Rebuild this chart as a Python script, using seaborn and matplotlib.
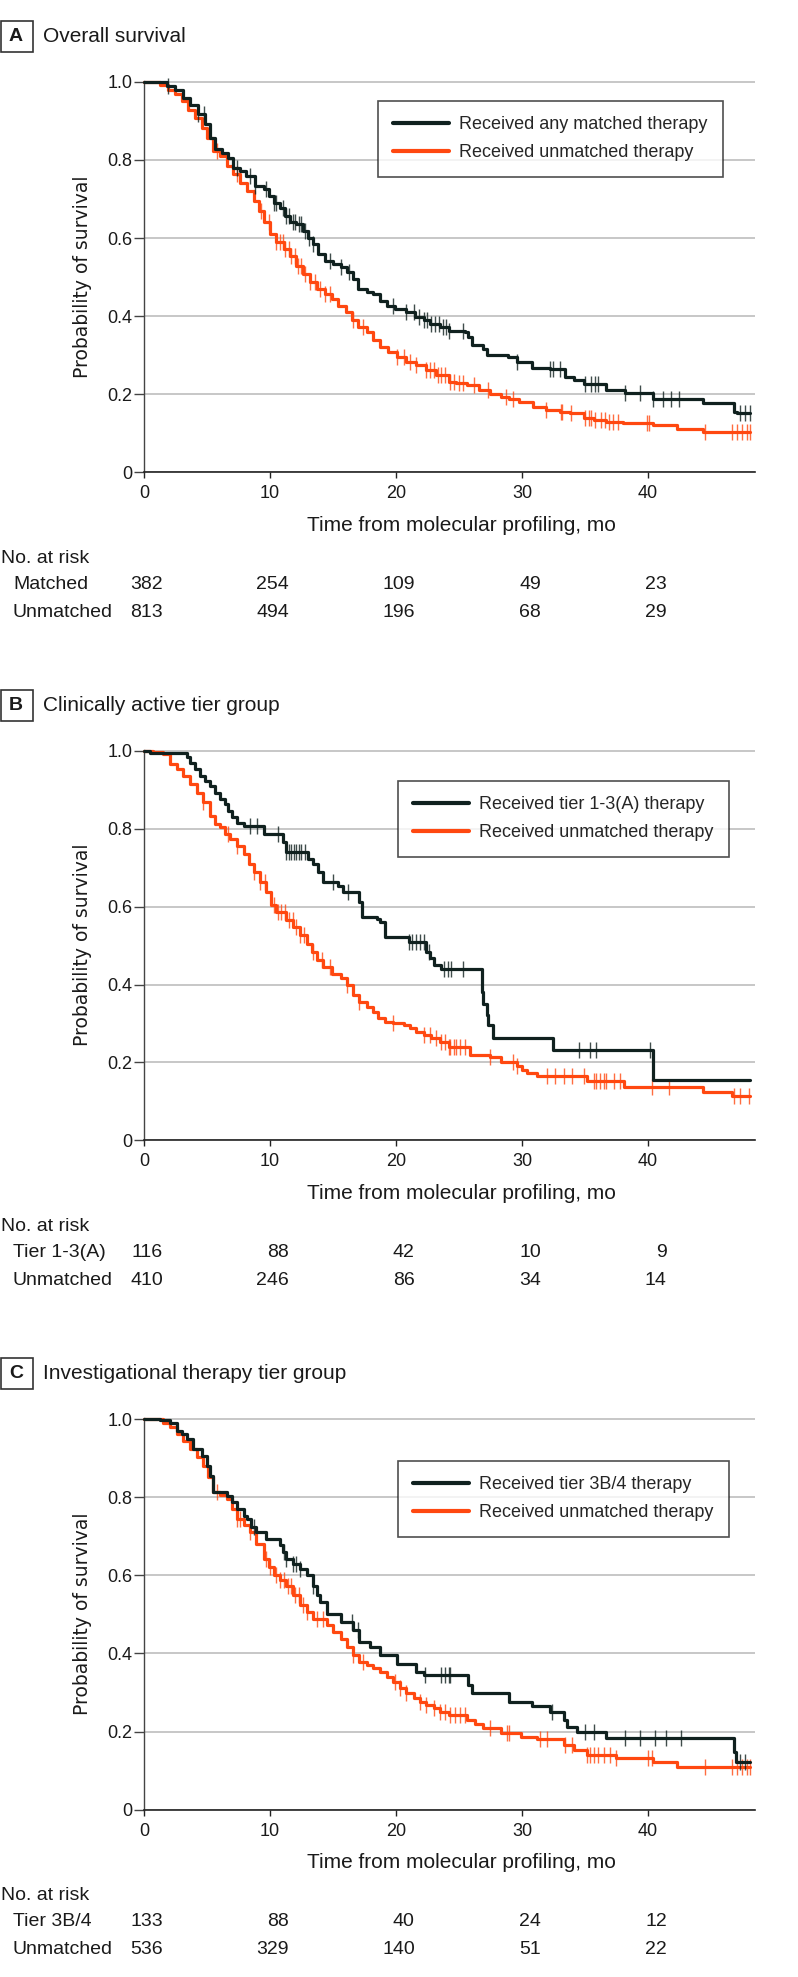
import numpy as np
import matplotlib
matplotlib.use("Agg")
import matplotlib.pyplot as plt
import matplotlib.patches as mpatches
from matplotlib.transforms import blended_transform_factory
import seaborn as sns

sns.set_style("white")
plt.rcParams["font.family"] = ["Liberation Sans", "DejaVu Sans"]

BLACK = "#10211f"
RED = "#ff4810"

# ---------------- data ----------------
xticks = [0, 10, 20, 30, 40]
yticks = [0, 0.2, 0.4, 0.6, 0.8, 1.0]
yticklabels = ["0", "0.2", "0.4", "0.6", "0.8", "1.0"]

# A: overall survival
a_matched_t = [0, 1.8, 2.5, 3.1, 3.65, 4.3, 4.85, 5.2, 5.6, 6.2, 6.7, 7.1, 7.6, 8.1, 8.8, 9.5, 9.9,
               10.3, 10.8, 11.2, 11.6, 12.1, 12.6, 13.0, 13.4, 13.8, 14.4, 15.0, 15.6, 16.1, 16.6,
               17.0, 17.7, 18.2, 18.7, 19.3, 19.9, 20.8, 21.5, 22.2, 22.7, 23.5, 24.2, 25.5, 25.7,
               26.0, 26.9, 27.2, 28.9, 29.6, 30.8, 32.2, 33.4, 34.1, 34.9, 36.7, 38.2, 40.4, 44.4,
               46.8, 47.1, 48.1]
a_matched_s = [1.0, 0.99, 0.98, 0.959, 0.942, 0.917, 0.891, 0.857, 0.827, 0.819, 0.806, 0.78, 0.772,
               0.759, 0.734, 0.725, 0.708, 0.691, 0.678, 0.657, 0.64, 0.636, 0.619, 0.60, 0.585,
               0.559, 0.542, 0.534, 0.525, 0.512, 0.495, 0.47, 0.461, 0.457, 0.44, 0.427, 0.419,
               0.41, 0.397, 0.389, 0.379, 0.372, 0.363, 0.359, 0.346, 0.325, 0.317, 0.30, 0.295,
               0.283, 0.267, 0.265, 0.244, 0.236, 0.225, 0.212, 0.203, 0.189, 0.178, 0.155, 0.151,
               0.151]
a_matched_cens = [1.9, 4.3, 4.8, 7.35, 8.4, 8.8, 9.7, 10.3, 10.5, 11.0, 11.3, 11.5, 11.8, 12.0, 12.3,
                  12.5, 12.8, 13.1, 13.4, 14.8, 15.6, 16.3, 19.8, 20.8, 21.4, 21.8, 22.2, 22.5, 22.8,
                  23.1, 23.4, 23.7, 24.0, 24.2, 25.3, 29.6, 32.2, 32.5, 33.0, 35.0, 35.5, 35.8, 36.0,
                  38.2, 39.4, 40.4, 41.2, 41.8, 42.5, 47.3, 47.7, 48.1]
a_unmatched_t = [0, 1.27, 1.93, 2.46, 3.0, 3.5, 4.05, 4.6, 5.0, 5.5, 6.0, 6.6, 7.1, 7.6, 8.15, 8.7,
                 9.1, 9.5, 10.0, 10.5, 11.1, 11.6, 12.1, 12.6, 13.2, 13.7, 14.4, 14.9, 15.4, 16.0,
                 16.5, 17.0, 17.7, 18.2, 18.7, 19.4, 20.05, 20.8, 21.6, 22.4, 23.2, 24.2, 24.8, 25.6,
                 26.6, 27.5, 28.3, 29.0, 29.8, 30.9, 31.9, 33.0, 33.8, 34.9, 35.7, 36.7, 38.0, 40.4,
                 42.3, 44.4, 48.1]
a_unmatched_s = [1.0, 0.993, 0.98, 0.968, 0.951, 0.929, 0.908, 0.883, 0.857, 0.823, 0.81, 0.785,
                 0.763, 0.742, 0.721, 0.695, 0.67, 0.64, 0.61, 0.589, 0.572, 0.555, 0.529, 0.508,
                 0.487, 0.47, 0.457, 0.444, 0.427, 0.41, 0.389, 0.372, 0.359, 0.338, 0.321, 0.308,
                 0.295, 0.283, 0.274, 0.261, 0.249, 0.232, 0.228, 0.223, 0.21, 0.20, 0.193, 0.189,
                 0.18, 0.168, 0.159, 0.155, 0.151, 0.14, 0.134, 0.13, 0.125, 0.121, 0.112, 0.104,
                 0.104]
a_unmatched_cens = [5.8, 7.35, 9.3, 9.9, 10.5, 10.8, 11.0, 11.2, 11.5, 11.7, 12.0, 12.2, 12.5, 12.8,
                    13.2, 13.6, 14.0, 14.4, 14.8, 16.6, 17.4, 20.1, 20.6, 21.1, 21.6, 22.4, 22.7,
                    23.0, 23.3, 23.6, 23.9, 24.3, 24.6, 25.0, 25.3, 26.2, 27.3, 28.7, 29.3, 31.9,
                    33.1, 33.2, 33.9, 35.0, 35.3, 35.5, 35.8, 36.3, 36.6, 36.9, 37.2, 37.6, 39.9,
                    40.1, 44.5, 46.7, 47.1, 47.5, 47.9, 48.1]
a_names = ["Matched", "Unmatched"]
a_risk_matched = [382, 254, 109, 49, 23]
a_risk_unmatched = [813, 494, 196, 68, 29]

# B: clinically active tier group
b_tier_t = [0, 0.48, 3.4, 3.65, 4.05, 4.45, 4.85, 5.2, 5.6, 6.0, 6.4, 6.7, 7.0, 7.35, 7.9, 9.5,
            11.06, 11.3, 13.0, 13.4, 13.8, 14.2, 15.4, 15.8, 17.1, 17.3, 18.5, 18.7, 19.1, 21.0,
            22.4, 22.7, 23.0, 23.6, 26.8, 26.9, 27.2, 27.3, 27.7, 32.5, 40.4, 48.1]
b_tier_s = [1.0, 0.994, 0.983, 0.97, 0.953, 0.936, 0.923, 0.91, 0.893, 0.876, 0.863, 0.846, 0.829,
            0.816, 0.806, 0.787, 0.765, 0.74, 0.723, 0.71, 0.689, 0.663, 0.654, 0.637, 0.612,
            0.573, 0.569, 0.56, 0.522, 0.509, 0.484, 0.467, 0.45, 0.441, 0.38, 0.35, 0.322,
            0.296, 0.262, 0.232, 0.155, 0.155]
b_tier_cens = [8.4, 9.0, 10.6, 11.3, 11.5, 11.7, 11.9, 12.1, 12.3, 12.5, 12.8, 15.0, 16.2, 21.0,
               21.3, 21.6, 21.9, 22.2, 22.6, 23.8, 24.1, 24.4, 25.3, 34.5, 35.4, 35.9, 40.2]
b_unmatched_t = [0, 0.74, 1.5, 2.06, 2.6, 3.1, 3.65, 4.2, 4.7, 5.2, 5.6, 6.0, 6.4, 6.8, 7.35, 7.9,
                 8.3, 8.7, 9.2, 9.7, 10.1, 10.5, 11.3, 11.85, 12.4, 12.9, 13.3, 13.7, 14.2, 14.9,
                 15.6, 16.1, 16.6, 17.1, 17.7, 18.2, 18.6, 19.1, 19.8, 20.6, 21.1, 21.6, 22.2, 22.8,
                 23.5, 24.2, 25.9, 27.5, 28.3, 29.6, 30.0, 30.4, 31.2, 35.2, 38.1, 44.4, 46.7, 48.1]
b_unmatched_s = [1.0, 0.996, 0.991, 0.966, 0.953, 0.936, 0.915, 0.893, 0.868, 0.834, 0.812, 0.804,
                 0.787, 0.774, 0.757, 0.735, 0.71, 0.689, 0.663, 0.637, 0.603, 0.586, 0.565, 0.548,
                 0.526, 0.505, 0.484, 0.462, 0.445, 0.428, 0.416, 0.398, 0.373, 0.356, 0.343, 0.33,
                 0.313, 0.303, 0.30, 0.296, 0.288, 0.279, 0.27, 0.262, 0.253, 0.24, 0.219, 0.215,
                 0.202, 0.19, 0.181, 0.172, 0.164, 0.151, 0.138, 0.125, 0.113, 0.113]
b_unmatched_cens = [4.7, 6.7, 7.35, 8.7, 9.2, 9.6, 10.3, 10.6, 10.9, 11.2, 11.5, 11.8, 12.1, 12.4,
                    12.7, 13.4, 14.1, 14.8, 16.1, 17.1, 19.8, 22.2, 22.7, 23.2, 23.6, 23.9, 24.2,
                    24.3, 24.6, 24.8, 25.1, 25.5, 27.5, 29.3, 29.6, 32.0, 32.6, 33.3, 34.0, 34.9,
                    35.7, 35.9, 36.2, 36.5, 36.7, 37.3, 37.8, 40.3, 41.7, 46.8, 47.3, 48.0]
b_names = ["Tier 1-3(A)", "Unmatched"]
b_risk_tier = [116, 88, 42, 10, 9]
b_risk_unmatched = [410, 246, 86, 34, 14]

# C: investigational therapy tier group
c_tier_t = [0, 1.27, 2.06, 2.6, 3.0, 3.4, 3.9, 4.6, 5.0, 5.2, 5.5, 6.6, 7.0, 7.35, 7.9, 8.15, 8.5,
            8.9, 9.7, 10.8, 11.06, 11.3, 11.85, 12.4, 12.9, 13.4, 13.7, 14.0, 14.5, 15.6, 16.6,
            17.1, 17.9, 18.7, 20.05, 21.6, 22.2, 25.7, 26.0, 29.0, 30.8, 32.2, 33.3, 33.6, 34.4,
            36.7, 46.8, 47.0, 48.1]
c_tier_s = [1.0, 0.998, 0.991, 0.97, 0.962, 0.949, 0.923, 0.906, 0.88, 0.855, 0.813, 0.804, 0.787,
            0.77, 0.753, 0.745, 0.723, 0.71, 0.694, 0.677, 0.66, 0.643, 0.63, 0.617, 0.60, 0.574,
            0.549, 0.532, 0.50, 0.48, 0.46, 0.43, 0.417, 0.396, 0.374, 0.353, 0.345, 0.32, 0.30,
            0.277, 0.266, 0.251, 0.23, 0.213, 0.20, 0.183, 0.149, 0.123, 0.123]
c_tier_cens = [8.7, 11.1, 11.3, 11.85, 12.1, 12.4, 13.4, 16.5, 17.0, 22.3, 23.6, 23.9, 24.2, 24.3,
               32.4, 35.0, 35.7, 38.2, 39.4, 40.6, 41.4, 42.6, 47.3, 47.7]
c_unmatched_t = [0, 1.5, 2.06, 2.6, 3.1, 3.65, 4.2, 4.7, 5.1, 5.5, 6.0, 6.6, 7.0, 7.35, 7.9, 8.4,
                 8.9, 9.5, 9.9, 10.3, 10.8, 11.3, 11.85, 12.4, 12.9, 13.4, 14.5, 15.0, 15.6, 16.1,
                 16.6, 17.1, 17.7, 18.2, 18.7, 19.3, 19.8, 20.3, 20.8, 21.4, 21.9, 22.4, 23.0, 23.5,
                 24.2, 25.6, 26.3, 26.9, 28.3, 29.9, 31.2, 33.3, 34.1, 35.2, 37.5, 40.4, 42.3, 48.1]
c_unmatched_s = [1.0, 0.991, 0.979, 0.962, 0.945, 0.923, 0.902, 0.88, 0.851, 0.813, 0.806, 0.796,
                 0.77, 0.745, 0.728, 0.71, 0.681, 0.643, 0.621, 0.60, 0.587, 0.574, 0.549, 0.523,
                 0.506, 0.489, 0.472, 0.455, 0.438, 0.417, 0.396, 0.379, 0.37, 0.362, 0.353, 0.34,
                 0.328, 0.311, 0.298, 0.287, 0.277, 0.268, 0.26, 0.251, 0.243, 0.23, 0.22, 0.209,
                 0.196, 0.187, 0.18, 0.166, 0.153, 0.14, 0.132, 0.123, 0.11, 0.11]
c_unmatched_cens = [5.8, 7.35, 7.6, 8.4, 9.7, 10.0, 10.5, 10.8, 11.1, 11.4, 11.7, 12.0, 12.3, 12.6,
                    12.9, 13.7, 14.2, 16.6, 17.4, 19.9, 20.3, 20.8, 21.9, 22.4, 23.0, 23.5, 23.9,
                    24.3, 24.7, 25.1, 25.5, 27.5, 28.8, 29.0, 31.4, 32.0, 33.4, 34.0, 35.2, 35.4,
                    35.7, 36.0, 36.5, 37.0, 37.5, 40.0, 40.3, 44.5, 46.7, 47.1, 47.5, 47.9, 48.1]
c_names = ["Tier 3B/4", "Unmatched"]
c_risk_tier = [133, 88, 40, 24, 12]
c_risk_unmatched = [536, 329, 140, 51, 22]

panels = [
    dict(letter="A", title="Overall survival", top=80.7, bottom=472.3, leg=(378, 101),
         labels=["Received any matched therapy", "Received unmatched therapy"],
         g1=(a_matched_t, a_matched_s, a_matched_cens),
         g2=(a_unmatched_t, a_unmatched_s, a_unmatched_cens),
         names=a_names, risk=[a_risk_matched, a_risk_unmatched]),
    dict(letter="B", title="Clinically active tier group", top=749.7, bottom=1140.3, leg=(398, 781),
         labels=["Received tier 1-3(A) therapy", "Received unmatched therapy"],
         g1=(b_tier_t, b_tier_s, b_tier_cens),
         g2=(b_unmatched_t, b_unmatched_s, b_unmatched_cens),
         names=b_names, risk=[b_risk_tier, b_risk_unmatched]),
    dict(letter="C", title="Investigational therapy tier group", top=1418.0, bottom=1809.7, leg=(398, 1461),
         labels=["Received tier 3B/4 therapy", "Received unmatched therapy"],
         g1=(c_tier_t, c_tier_s, c_tier_cens),
         g2=(c_unmatched_t, c_unmatched_s, c_unmatched_cens),
         names=c_names, risk=[c_risk_tier, c_risk_unmatched]),
]

W, H = 798, 1977
fig = plt.figure(figsize=(W / 100, H / 100), dpi=100)


def fx(px):
    return px / W


def fy(py):
    return 1 - py / H


X0, X1 = 144, 755
for p in panels:
    ax = fig.add_axes([fx(X0), fy(p["bottom"]), (X1 - X0) / W, (p["bottom"] - p["top"]) / H])

    for (t, s, cens), col, lab in [(p["g2"], RED, p["labels"][1]), (p["g1"], BLACK, p["labels"][0])]:
        sns.lineplot(x=t, y=s, drawstyle="steps-post", color=col, lw=2.3, label=lab,
                     estimator=None, sort=False, ax=ax, clip_on=False, zorder=3)
        idx = np.searchsorted(t, cens, side="right") - 1
        ax.plot(cens, np.asarray(s)[idx], ls="none", marker="|", ms=11, mew=1,
                color=col, alpha=0.8, clip_on=False, zorder=3)

    ax.set_xlim(0, 48.5)
    ax.set_ylim(0, 1.003)
    ax.set_xticks(xticks)
    ax.set_yticks(yticks)
    ax.set_yticklabels(yticklabels)
    ax.yaxis.grid(True, color="#b8b8b8", lw=1.1)
    ax.xaxis.grid(False)
    ax.set_axisbelow(True)
    for side in ["top", "right"]:
        ax.spines[side].set_visible(False)
    ax.spines["left"].set_color("#444444")
    ax.spines["left"].set_linewidth(1.0)
    ax.spines["bottom"].set_color("#222222")
    ax.spines["bottom"].set_linewidth(1.2)
    ax.tick_params(axis="x", direction="out", length=4.5, width=1, pad=5, labelsize=13,
                   color="#222222", labelcolor="#1a1a1a", bottom=True)
    ax.tick_params(axis="y", direction="out", length=7, width=1, pad=1.5, labelsize=13,
                   color="#444444", labelcolor="#1a1a1a", left=True)

    ax.set_ylabel("Probability of survival", family="DejaVu Sans", fontsize=13.5, color="#1a1a1a")
    ax.yaxis.set_label_coords(-0.085, 0.5)
    ax.set_xlabel("Time from molecular profiling, mo", fontsize=15, color="#1a1a1a")
    ax.xaxis.set_label_coords(0.52, -53 / 391.6)
    ax.xaxis.label.set_va("center")

    handles, labels = ax.get_legend_handles_labels()
    leg = ax.legend([handles[1], handles[0]], [labels[1], labels[0]], loc="upper left",
                    bbox_to_anchor=(fx(p["leg"][0]), fy(p["leg"][1])), bbox_transform=fig.transFigure,
                    borderaxespad=0, frameon=True, fancybox=False, fontsize=13.0, handlelength=3.1,
                    handletextpad=0.55, borderpad=0.85, labelspacing=0.6, edgecolor="#222222")
    leg.get_frame().set_linewidth(1.2)
    for ln in leg.get_lines():
        ln.set_linewidth(3)

    # panel letter and title
    top = p["top"]
    fig.patches.append(mpatches.Rectangle((fx(0.7), fy(top - 29)), 32 / W, 31 / H,
                                          transform=fig.transFigure, fill=False,
                                          ec="#333333", lw=1.2))
    fig.text(fx(16), fy(top - 44.5), p["letter"], ha="center", va="center", fontsize=14,
             weight="bold", color="#1a1a1a")
    fig.text(fx(43), fy(top - 44.5), p["title"], ha="left", va="center", fontsize=15,
             color="#1a1a1a")

    # number at risk table
    b = p["bottom"]
    trans = blended_transform_factory(ax.transData, fig.transFigure)
    fig.text(fx(1), fy(b + 86), "No. at risk", ha="left", va="center", fontsize=14, color="#1a1a1a")
    for row, (name, counts) in enumerate(zip(p["names"], p["risk"])):
        yy = fy(b + 112 + 28 * row)
        fig.text(fx(13), yy, name, ha="left", va="center", fontsize=14, color="#1a1a1a")
        for tk, n in zip(xticks, counts):
            ax.text(tk + 1.5, yy, str(n), transform=trans, ha="right", va="center",
                    fontsize=14, color="#1a1a1a")

fig.savefig("out.png", dpi=100)
